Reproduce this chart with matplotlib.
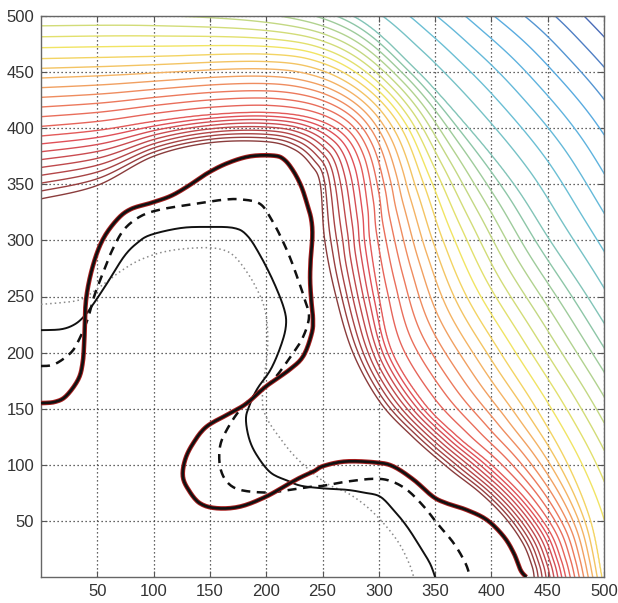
import numpy as np
import matplotlib
matplotlib.use("Agg")
import matplotlib.pyplot as plt
from matplotlib.colors import LinearSegmentedColormap

# ---------------- data ----------------
# guide contours of the background field (level -> polyline)
guide_levels = [0, 8, 16, 24, 32]
g0_x = [0, 50, 100, 150, 200, 225, 240, 248, 252, 262, 277, 301, 330, 362, 390, 412, 428, 436, 438]
g0_y = [337, 349, 375, 387, 388, 381, 367, 350, 300, 250, 200, 156, 125, 97, 75, 53, 30, 10, 0]
g8_x = [0, 50, 100, 150, 200, 240, 268, 283, 290, 292, 300, 312, 340, 370, 400, 430, 452, 462, 466]
g8_y = [393, 398, 406, 412, 414, 409, 395, 370, 330, 300, 250, 200, 155, 125, 100, 70, 40, 15, 0]
g16_x = [0, 100, 200, 250, 290, 320, 340, 357, 378, 408, 440, 468, 488, 498]
g16_y = [462, 464, 466, 458, 435, 400, 350, 300, 250, 200, 150, 100, 50, 0]
g24_x = [0, 100, 200, 277, 330, 380, 420, 452, 482, 510, 540, 570, 595, 600]
g24_y = [540, 538, 525, 500, 455, 400, 350, 300, 255, 210, 160, 100, 30, 0]
g32_x = [0, 200, 350, 440, 491, 545, 600, 640, 665, 672]
g32_y = [650, 632, 590, 535, 491, 425, 320, 200, 80, 0]

# thick red/black curve
thick_x = [0, 12, 22, 33, 37, 38.5, 40, 46, 55, 68, 80, 98, 115, 130, 148, 166, 186, 207, 216, 224,
           231, 236, 240, 241, 239.5, 239, 240, 241.5, 240.4, 233, 221, 200, 183, 168, 147, 135, 128,
           126, 131, 141, 156, 177, 200, 221, 231, 242, 251, 271, 298, 313, 331, 348, 360, 378, 396,
           411, 420, 426, 431]
thick_y = [155, 156, 161, 176, 191, 212, 247, 277, 301, 319, 328, 333.5, 339.5, 348, 360, 369, 375,
           375.5, 372, 362, 348.5, 333.6, 318.8, 304, 283, 265, 247, 230, 217, 197, 185, 170, 155, 146,
           134, 119, 104.5, 89.6, 77.7, 65.8, 61.3, 62.8, 71.7, 83.6, 89, 94, 99, 103, 102, 98.5, 86.6,
           71.7, 65.8, 59.8, 50.9, 36, 21, 6, 0]
# dashed curve
dash_x = [0, 12, 26.6, 34, 41.4, 47.3, 55, 63.6, 74, 88.8, 106.5, 133, 160, 177, 194.6, 205, 213, 221,
          228, 234, 238, 233, 224, 206.4, 191.6, 176.7, 164.9, 159, 159, 164.9, 176.7, 200.4, 221,
          241.9, 250.5, 271.5, 295, 310, 325, 340, 351.8, 366.6, 377, 381]
dash_y = [188, 189.6, 200, 212, 229.7, 250.4, 271, 292, 310, 321.7, 327.6, 332, 336, 336.6, 332.5, 318,
          303, 285, 266, 248, 232, 214.5, 199.7, 175.9, 164, 149, 131, 116.4, 98.5, 85.1, 77.7, 75.3,
          77.7, 80.7, 81.3, 85, 87.5, 85.7, 77.7, 62.8, 47.9, 30, 12.2, 0]
# thin solid curve
solid_x = [0, 17.8, 29.6, 38.5, 47.3, 59, 74, 85.8, 97.6, 124, 148, 171.6, 183.4, 195, 207, 216, 217.5,
           213, 204, 192, 185, 182, 185, 192, 204, 219, 231, 250.5, 271.5, 286.3, 301, 313, 325, 336.6,
           345.5, 350]
solid_y = [220, 220.8, 225, 232.6, 244.5, 262.3, 286, 298, 305, 311, 312, 311, 304, 286, 262, 238.6,
           223.7, 206, 185, 167.6, 152.5, 140.6, 122.8, 108, 93, 85.8, 81.3, 79, 77.7, 75.3, 71.7, 59.8,
           45, 27, 12, 0]
# dotted grey curve
dot_x = [0, 17.8, 35.5, 53, 71, 88.8, 112.4, 142, 160, 171.6, 183.4, 192, 198, 201, 201, 198, 196.7,
         201, 213, 225, 241, 256, 272, 289, 305, 318, 327, 331]
dot_y = [243, 244.5, 247.5, 259, 272.7, 283, 290.5, 293.5, 292, 286, 271, 256, 241.5, 223.7, 200, 176,
         155.5, 140.6, 122.8, 108, 93, 82, 75, 63, 47, 30, 12, 0]

ticks = [50, 100, 150, 200, 250, 300, 350, 400, 450, 500]
n_levels = 33


# ---------------- helpers ----------------
def catmull(x, y, n=10):
    p = np.column_stack([x, y]).astype(float)
    p = np.vstack([p[0], p, p[-1]])
    out = []
    t = np.linspace(0, 1, n, endpoint=False)[:, None]
    for i in range(1, len(p) - 2):
        p0, p1, p2, p3 = p[i - 1], p[i], p[i + 1], p[i + 2]
        seg = 0.5 * ((2 * p1) + (-p0 + p2) * t + (2 * p0 - 5 * p1 + 4 * p2 - p3) * t ** 2
                     + (-p0 + 3 * p1 - 3 * p2 + p3) * t ** 3)
        out.append(seg)
    out.append(p[-2][None, :])
    out = np.vstack(out)
    return out[:, 0], out[:, 1]


def guide_radius(theta, gx, gy):
    sx, sy = catmull(gx, gy, 16)
    th = np.arctan2(sy, sx)
    r = np.hypot(sx, sy)
    o = np.argsort(th)
    return np.interp(theta, th[o], r[o])


# ---------------- field ----------------
xs = np.linspace(-3, 503, 700)
ys = np.linspace(-3, 503, 700)
X, Y = np.meshgrid(xs, ys)
TH = np.arctan2(Y, X)
R = np.hypot(X, Y)
guides = [(g0_x, g0_y), (g8_x, g8_y), (g16_x, g16_y), (g24_x, g24_y), (g32_x, g32_y)]
RG = [guide_radius(TH, gx, gy) for gx, gy in guides]
F = np.zeros_like(R)
L = guide_levels
F[:] = L[0] - (RG[0] - R) / (RG[1] - RG[0]) * (L[1] - L[0])
for k in range(len(L) - 1):
    m = (R >= RG[k]) & (R < RG[k + 1])
    F[m] = (L[k] + (L[k + 1] - L[k]) * (R - RG[k]) / (RG[k + 1] - RG[k]))[m]
m = R >= RG[-1]
F[m] = (L[-1] + (R - RG[-1]) / (RG[-1] - RG[-2]) * (L[-1] - L[-2]))[m]

anchors = [(0, '#8a3c3c'), (3, '#b44648'), (7, '#e05058'), (11, '#ec785c'), (14, '#f4b264'),
           (17, '#f2e462'), (20, '#c4d882'), (23, '#8ec6a6'), (26, '#6cc0d4'), (29, '#5aaee2'),
           (32, '#4a6cb8')]
cmap = LinearSegmentedColormap.from_list('c', [(a / 32, c) for a, c in anchors])
colors = [cmap(i / (n_levels - 1)) for i in range(n_levels)]

# ---------------- figure ----------------
fig = plt.figure(figsize=(6.18, 6.03), dpi=100)
ax = fig.add_axes([41 / 618, 26 / 603, 563 / 618, 561 / 603])
ax.contour(X, Y, F, levels=list(range(n_levels)), colors=colors, linewidths=1.0, zorder=2)

sx, sy = catmull(thick_x, thick_y)
ax.plot(sx, sy, color='#a81e1e', lw=3.3, solid_capstyle='butt', zorder=5)
ax.plot(sx, sy, color='#111111', lw=1.9, solid_capstyle='butt', zorder=6)
sx, sy = catmull(dash_x, dash_y)
ax.plot(sx, sy, color='#111111', lw=1.8, dashes=(3.6, 2.6), zorder=4)
sx, sy = catmull(solid_x, solid_y)
ax.plot(sx, sy, color='#111111', lw=1.4, zorder=4)
sx, sy = catmull(dot_x, dot_y)
ax.plot(sx, sy, color='#8a8a8a', lw=1.1, linestyle=(0, (1, 2)), zorder=3)

ax.set_xlim(0, 500)
ax.set_ylim(0, 500)
ax.set_xticks(ticks)
ax.set_yticks(ticks)
ax.set_xticklabels([str(t) for t in ticks])
ax.set_yticklabels([str(t) for t in ticks])
ax.grid(True, color='#333333', linestyle=(0, (1, 2.2)), linewidth=0.9)
ax.set_axisbelow(True)
ax.tick_params(direction='in', length=4, width=0.8, color='#555555', top=True, right=True,
               labelsize=12, labelcolor='#333333', pad=5)
for lab in ax.get_xticklabels() + ax.get_yticklabels():
    lab.set_fontfamily('Liberation Sans')
for s in ax.spines.values():
    s.set_color('#666666')
    s.set_linewidth(1.0)

fig.savefig('out.png', dpi=100)
